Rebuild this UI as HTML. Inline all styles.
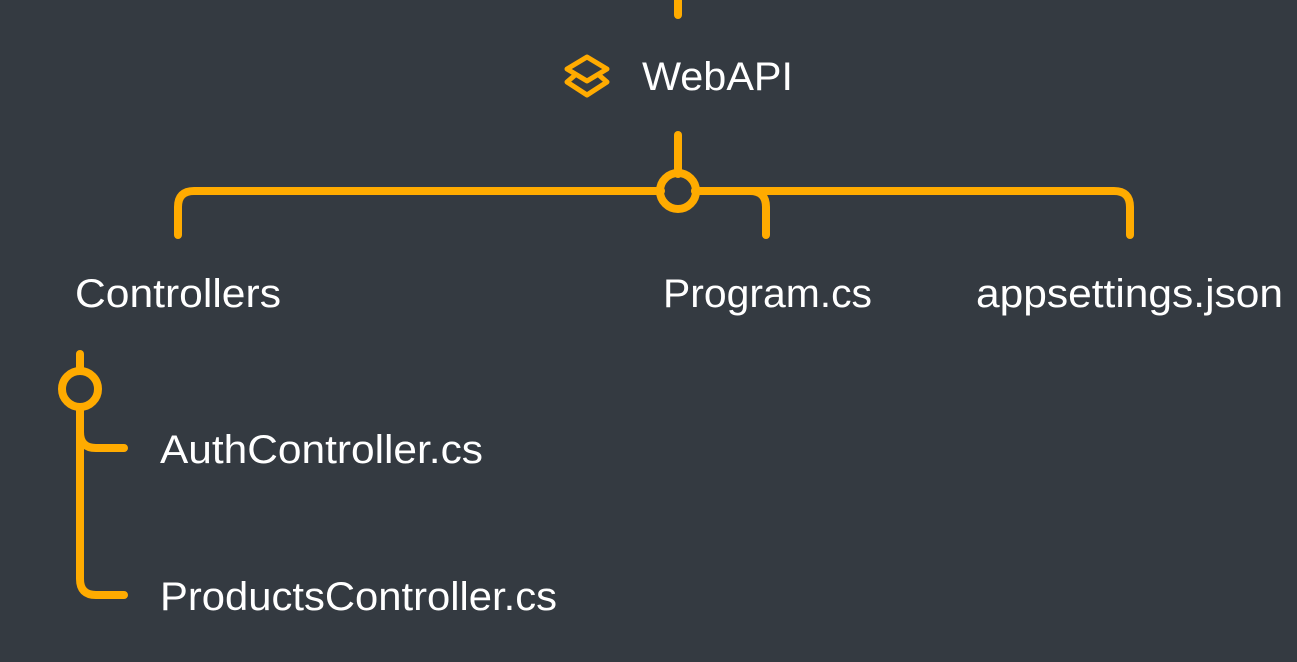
<!DOCTYPE html>
<html><head><style>
html,body{margin:0;padding:0;background:#343a41;}
svg{display:block}
text{font-family:"Liberation Sans",sans-serif;fill:#fff;font-size:40px}
</style></head><body>
<svg width="1297" height="662" viewBox="0 0 1297 662">
<rect width="1297" height="662" fill="#343a41"/>
<g fill="none" stroke="#ffab00" stroke-width="8" stroke-linecap="round" stroke-linejoin="round">
<line x1="678" y1="0" x2="678" y2="15"/>
<line x1="678" y1="135" x2="678" y2="174"/>
<path d="M178 235 V207 Q178 191 194 191 H661"/>
<path d="M695 191 H750 Q766 191 766 207 V235"/>
<path d="M695 191 H1114 Q1130 191 1130 207 V235"/>
<circle cx="678" cy="191" r="18"/>
<line x1="80" y1="354" x2="80" y2="371"/>
<circle cx="80" cy="389" r="18"/>
<path d="M80 407 V579 Q80 595 96 595 H124"/>
<path d="M80 432 Q80 448 96 448 H124"/>
<path d="M587 57 L607 69 L587 81 L567 69 Z" stroke-width="5"/>
<path d="M574 76 L567 82 L587 95 L607 82 L600 76" stroke-width="5"/>
</g>
<text x="642" y="90" textLength="151" lengthAdjust="spacingAndGlyphs">WebAPI</text>
<text x="75" y="307" textLength="206" lengthAdjust="spacingAndGlyphs">Controllers</text>
<text x="663" y="307" textLength="209" lengthAdjust="spacingAndGlyphs">Program.cs</text>
<text x="976" y="307" textLength="307" lengthAdjust="spacingAndGlyphs">appsettings.json</text>
<text x="160" y="463" textLength="323" lengthAdjust="spacingAndGlyphs">AuthController.cs</text>
<text x="160" y="610" textLength="397" lengthAdjust="spacingAndGlyphs">ProductsController.cs</text>
</svg>
</body></html>
